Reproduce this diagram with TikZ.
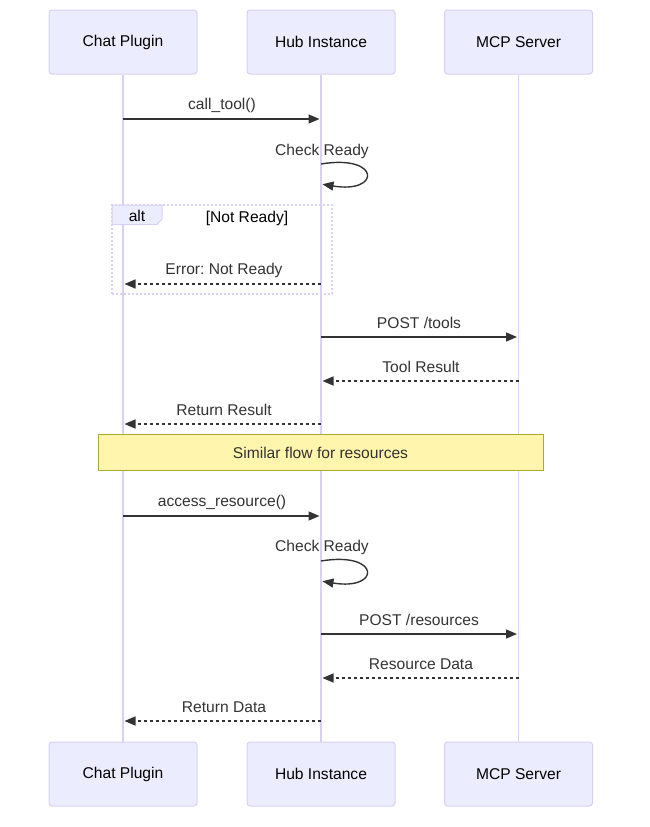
\documentclass[tikz,border=0pt]{standalone}
\usepackage{fontspec}
\setmainfont{Liberation Sans}
\usetikzlibrary{arrows.meta}
\frenchspacing
\definecolor{actfill}{HTML}{ECECFF}
\definecolor{actline}{HTML}{D9D0F3}
\definecolor{msg}{HTML}{333333}
\definecolor{notefill}{HTML}{FFF5AD}
\definecolor{noteline}{HTML}{AAAA33}
\tikzset{
 actor/.style={draw=actline, fill=actfill, line width=1pt, rounded corners=3pt, minimum width=148pt, minimum height=64pt, inner sep=0pt, font=\fontsize{15.6}{18}\selectfont},
 life/.style={draw=actline, line width=1.8pt},
 msgtxt/.style={anchor=base, text=msg, font=\fontsize{15.6}{18}\selectfont, inner sep=0pt},
 solidmsg/.style={draw=msg, line width=1.4pt, -{Triangle[length=11pt,width=9pt]}, shorten >=1.5pt},
 dashmsg/.style={solidmsg, dash pattern=on 3pt off 3pt},
}
\begin{document}
\begin{tikzpicture}[x=1pt,y=-1pt]
\useasboundingbox (0,0) rectangle (650,827);
% actors
\node[actor] (cp) at (123,42) {Chat Plugin};
\node[actor] (hub) at (321,42) {Hub Instance};
\node[actor] (mcp) at (518.5,42) {MCP Server};
\node[actor] (cpb) at (123,774) {Chat Plugin};
\node[actor] (hubb) at (321,774) {Hub Instance};
\node[actor] (mcpb) at (518.5,774) {MCP Server};
% lifelines
\draw[life] (cp.south) -- (cpb.north);
\draw[life] (hub.south) -- (hubb.north);
\draw[life] (mcp.south) -- (mcpb.north);
% alt frame
\node[draw=actline, line width=1.5pt, dash pattern=on 2pt off 2pt, minimum width=220pt, minimum height=89pt, inner sep=0pt] (altbox) at (222,249.5) {};
\draw[fill=actfill, draw=actline, line width=1pt] (112,205) -- (162,205) -- (162,219) -- (157,224.5) -- (112,224.5) -- cycle;
\node[anchor=base, text=black, font=\fontsize{15.6}{18}\selectfont, inner sep=0pt] (altlbl) at (137,221) {alt};
\node[anchor=base, text=black, font=\fontsize{15.6}{18}\selectfont, inner sep=0pt] (altcond) at (247,222) {[Not Ready]};
% coordinates on lifelines
\foreach \n/\y in {a/119,b/164,c/184,d/284,e/337,f/381,g/424,h/516,i/561,j/581,k/634,l/678,m/721}{
  \coordinate (cp\n) at (123,\y);
  \coordinate (hub\n) at (321,\y);
  \coordinate (mcp\n) at (518.5,\y);
}
% messages
\node[msgtxt] (t1) at (222,109) {call\_tool()};
\draw[solidmsg] (cpa) -- (huba);
\node[msgtxt] (t2) at (322,155) {Check Ready};
\draw[solidmsg] (hubb) .. controls (381,154) and (381,194) .. (hubc);
\node[msgtxt] (t3) at (224,274.5) {Error: Not Ready};
\draw[dashmsg] (hubd) -- (cpd);
\node[msgtxt] (t4) at (419,328) {POST /tools};
\draw[solidmsg] (hube) -- (mcpe);
\node[msgtxt] (t5) at (421,372.5) {Tool Result};
\draw[dashmsg] (mcpf) -- (hubf);
\node[msgtxt] (t6) at (224,415.5) {Return Result};
\draw[dashmsg] (hubg) -- (cpg);
% note
\node[draw=noteline, fill=notefill, line width=1pt, minimum width=445pt, minimum height=36pt, inner sep=0pt, text=msg, font=\fontsize{15.6}{18}\selectfont] (note) at (320.5,452.5) {Similar flow for resources};
\node[msgtxt] (t7) at (222,506) {access\_resource()};
\draw[solidmsg] (cph) -- (hubh);
\node[msgtxt] (t8) at (322,551.5) {Check Ready};
\draw[solidmsg] (hubi) .. controls (381,551) and (381,591) .. (hubj);
\node[msgtxt] (t9) at (419,625.5) {POST /resources};
\draw[solidmsg] (hubk) -- (mcpk);
\node[msgtxt] (t10) at (421,669.5) {Resource Data};
\draw[dashmsg] (mcpl) -- (hubl);
\node[msgtxt] (t11) at (224,712.5) {Return Data};
\draw[dashmsg] (hubm) -- (cpm);
\end{tikzpicture}
\end{document}
